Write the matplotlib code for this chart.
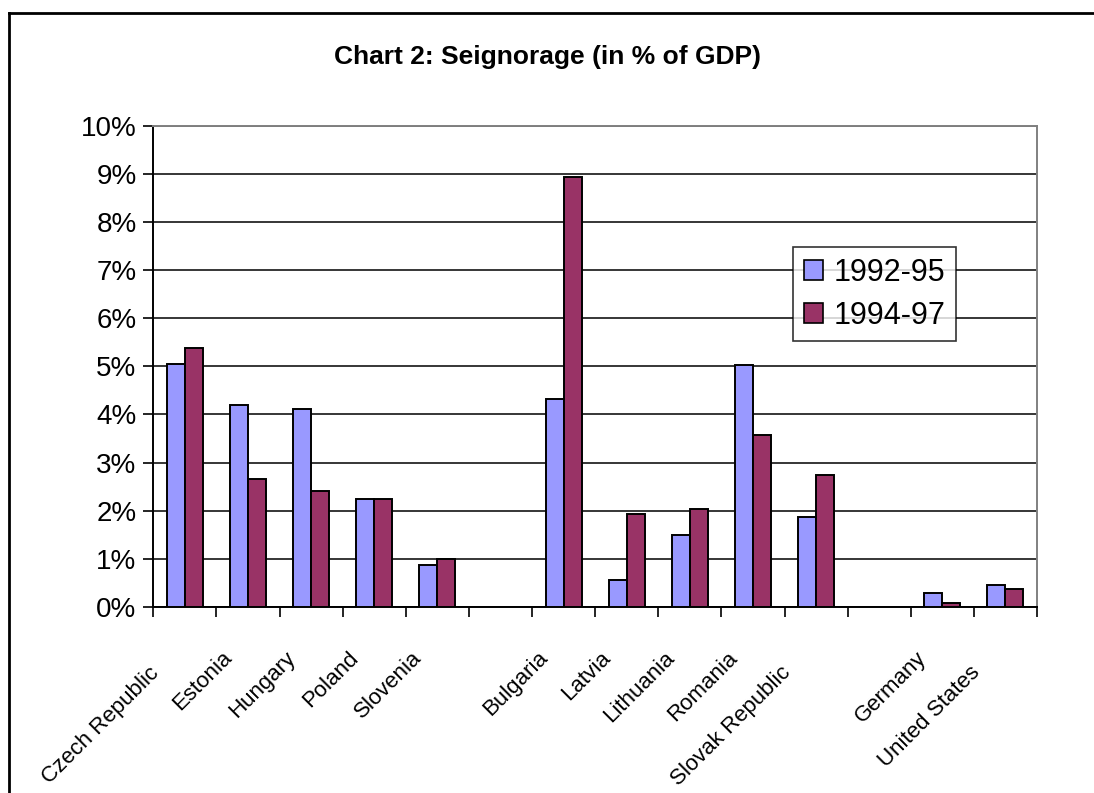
import numpy as np
import matplotlib
matplotlib.use('Agg')
import matplotlib.pyplot as plt
from matplotlib.lines import Line2D
from matplotlib.transforms import ScaledTranslation
from matplotlib.ticker import FuncFormatter, FixedLocator

plt.rcParams['font.family'] = ['Liberation Sans', 'DejaVu Sans']

# empty strings are the gaps between country groups
countries = ['Czech Republic', 'Estonia', 'Hungary', 'Poland', 'Slovenia', '',
             'Bulgaria', 'Latvia', 'Lithuania', 'Romania', 'Slovak Republic', '',
             'Germany', 'United States']
s_9295 = [5.05, 4.20, 4.12, 2.24, 0.87, np.nan,
          4.32, 0.57, 1.49, 5.02, 1.86, np.nan,
          0.29, 0.46]
s_9497 = [5.37, 2.66, 2.41, 2.24, 1.00, np.nan,
          8.94, 1.94, 2.03, 3.57, 2.74, np.nan,
          0.08, 0.38]
series_names = ['1992-95', '1994-97']
yticks = [0, 1, 2, 3, 4, 5, 6, 7, 8, 9, 10]

fig = plt.figure(figsize=(10.94, 7.93), dpi=100)
ax = fig.add_axes([0.1401, 0.2346, 0.8078, 0.6071])

x = np.arange(len(countries))
w = 0.285
ax.bar(x - w/2, s_9295, w, color='#9999FF', edgecolor='black', linewidth=1.4,
       label=series_names[0], zorder=3)
ax.bar(x + w/2, s_9497, w, color='#993366', edgecolor='black', linewidth=1.4,
       label=series_names[1], zorder=3)

ax.set_xlim(-0.5, len(countries) - 0.5)
ax.set_ylim(0, 10)
ax.set_yticks(yticks)
ax.yaxis.set_major_formatter(FuncFormatter(lambda v, p: '%d%%' % v))
ax.tick_params(axis='y', labelsize=20, length=7, width=1.2, pad=5, direction='out')
ax.xaxis.set_major_locator(FixedLocator(np.arange(-0.5, len(countries), 1.0)))
ax.tick_params(axis='x', length=7, width=1.2, direction='out', labelbottom=False)
ax.grid(axis='y', color='black', linewidth=1.1, zorder=0)

for side in ['left', 'bottom']:
    ax.spines[side].set_color('black')
    ax.spines[side].set_linewidth(1.4)
for side in ['top', 'right']:
    ax.spines[side].set_color('#808080')
    ax.spines[side].set_linewidth(1.4)

# rotated category labels, long ones sit a bit lower like in Excel
for i, name in enumerate(countries):
    if not name:
        continue
    if len(name) > 10:
        dx, dy = -18.0, -48.0
    else:
        dx, dy = -10.8, -37.4
    tr = ax.get_xaxis_transform() + ScaledTranslation(dx/72, dy/72, fig.dpi_scale_trans)
    ax.text(i, 0, name, transform=tr, rotation=45, rotation_mode='anchor',
            ha='right', va='baseline', fontsize=16)

leg = ax.legend(loc='upper left', bbox_to_anchor=((793 - 153.3)/883.7, (607 - 247)/481.5),
                fontsize=22, frameon=True, fancybox=False, edgecolor='black',
                handlelength=0.62, handleheight=0.62, handletextpad=0.35,
                borderpad=0.35, labelspacing=0.42, borderaxespad=0)
leg.get_frame().set_linewidth(1.2)
for h in leg.legend_handles:
    h.set_linewidth(1.2)

fig.text(0.5, 1 - 57/793, 'Chart 2: Seignorage (in % of GDP)', ha='center', va='center',
         fontsize=19, fontweight='bold')

# outer chart frame (top and left edges only are visible)
fig.add_artist(Line2D([9/1094, 1], [1 - 13/793, 1 - 13/793], color='black', linewidth=2,
                      transform=fig.transFigure))
fig.add_artist(Line2D([9/1094, 9/1094], [0, 1 - 13/793], color='black', linewidth=2,
                      transform=fig.transFigure))

fig.savefig('out.png', dpi=100)
